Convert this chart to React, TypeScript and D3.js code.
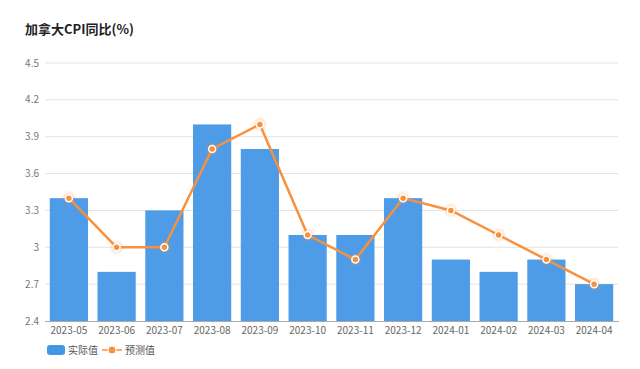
import React from "react";
import * as d3 from "d3";

const categories = ["2023-05","2023-06","2023-07","2023-08","2023-09","2023-10","2023-11","2023-12","2024-01","2024-02","2024-03","2024-04"];
const actualValues = [3.4, 2.8, 3.3, 4.0, 3.8, 3.1, 3.1, 3.4, 2.9, 2.8, 2.9, 2.7];
const forecastValues = [3.4, 3.0, 3.0, 3.8, 4.0, 3.1, 2.9, 3.4, 3.3, 3.1, 2.9, 2.7];
const yTicks = [2.4, 2.7, 3, 3.3, 3.6, 3.9, 4.2, 4.5];
const title = "加拿大CPI同比(%)";
const legendLabels = ["实际值", "预测值"];

const W = 640, H = 369;
const M = { left: 45, right: 618, top: 63, bottom: 321 };
const FONT = "'Noto Sans CJK SC', 'Noto Sans', sans-serif";
const BAR = "#4596e6";
const LINE = "#f7913d";

export default function App() {
  const x = d3.scaleBand().domain(categories).range([M.left, M.right]).paddingInner(0.2).paddingOuter(0.1);
  const y = d3.scaleLinear().domain([2.4, 4.5]).range([M.bottom, M.top]);
  const line = d3.line<number>().x((_, i) => (x(categories[i]) as number) + x.bandwidth() / 2).y(d => y(d));
  return (
    <svg width={W} height={H} style={{ position: "absolute", left: 0, top: 0, background: "#fff" }} fontFamily={FONT}>
      <defs>
        <radialGradient id="glow">
          <stop offset="0%" stopColor={LINE} stopOpacity={0.5} />
          <stop offset="100%" stopColor={LINE} stopOpacity={0} />
        </radialGradient>
      </defs>
      <text x={25} y={34} fontSize={13} fontWeight="bold" fill="#222">{title}</text>
      {yTicks.map(t => (
        <g key={t}>
          {t !== 2.4 && <line x1={M.left} x2={M.right} y1={y(t)} y2={y(t)} stroke="#e3e3e3" strokeWidth={1} />}
          <text x={39} y={y(t) + 3.5} fontSize={10} fill="#777" textAnchor="end">{String(t)}</text>
        </g>
      ))}
      {categories.map((c, i) => (
        <rect key={c} x={x(c)} y={y(actualValues[i])} width={x.bandwidth()} height={M.bottom - y(actualValues[i])} fill={BAR} fillOpacity={0.95} />
      ))}
      <line x1={M.left} x2={M.right + 1} y1={M.bottom + 0.5} y2={M.bottom + 0.5} stroke="#aaa" strokeWidth={1} />
      {categories.map(c => (
        <text key={c} x={(x(c) as number) + x.bandwidth() / 2} y={334} fontSize={10} fill="#666" textAnchor="middle">{c}</text>
      ))}
      <path d={line(forecastValues) || ""} fill="none" stroke={LINE} strokeWidth={2.5} strokeLinejoin="round" />
      {forecastValues.map((v, i) => {
        const cx = (x(categories[i]) as number) + x.bandwidth() / 2;
        return (
          <g key={i}>
            <circle cx={cx} cy={y(v)} r={8} fill="url(#glow)" />
            <circle cx={cx} cy={y(v)} r={3.5} fill={LINE} stroke="#fff" strokeWidth={1.5} />
          </g>
        );
      })}
      <rect x={47} y={345} width={18} height={10} rx={3} fill={BAR} />
      <text x={68} y={354} fontSize={10} fill="#555">{legendLabels[0]}</text>
      <line x1={102} x2={122} y1={350} y2={350} stroke={LINE} strokeWidth={1.5} />
      <circle cx={112} cy={350} r={4} fill={LINE} stroke="#fff" strokeWidth={1} />
      <text x={125} y={354} fontSize={10} fill="#555">{legendLabels[1]}</text>
    </svg>
  );
}
